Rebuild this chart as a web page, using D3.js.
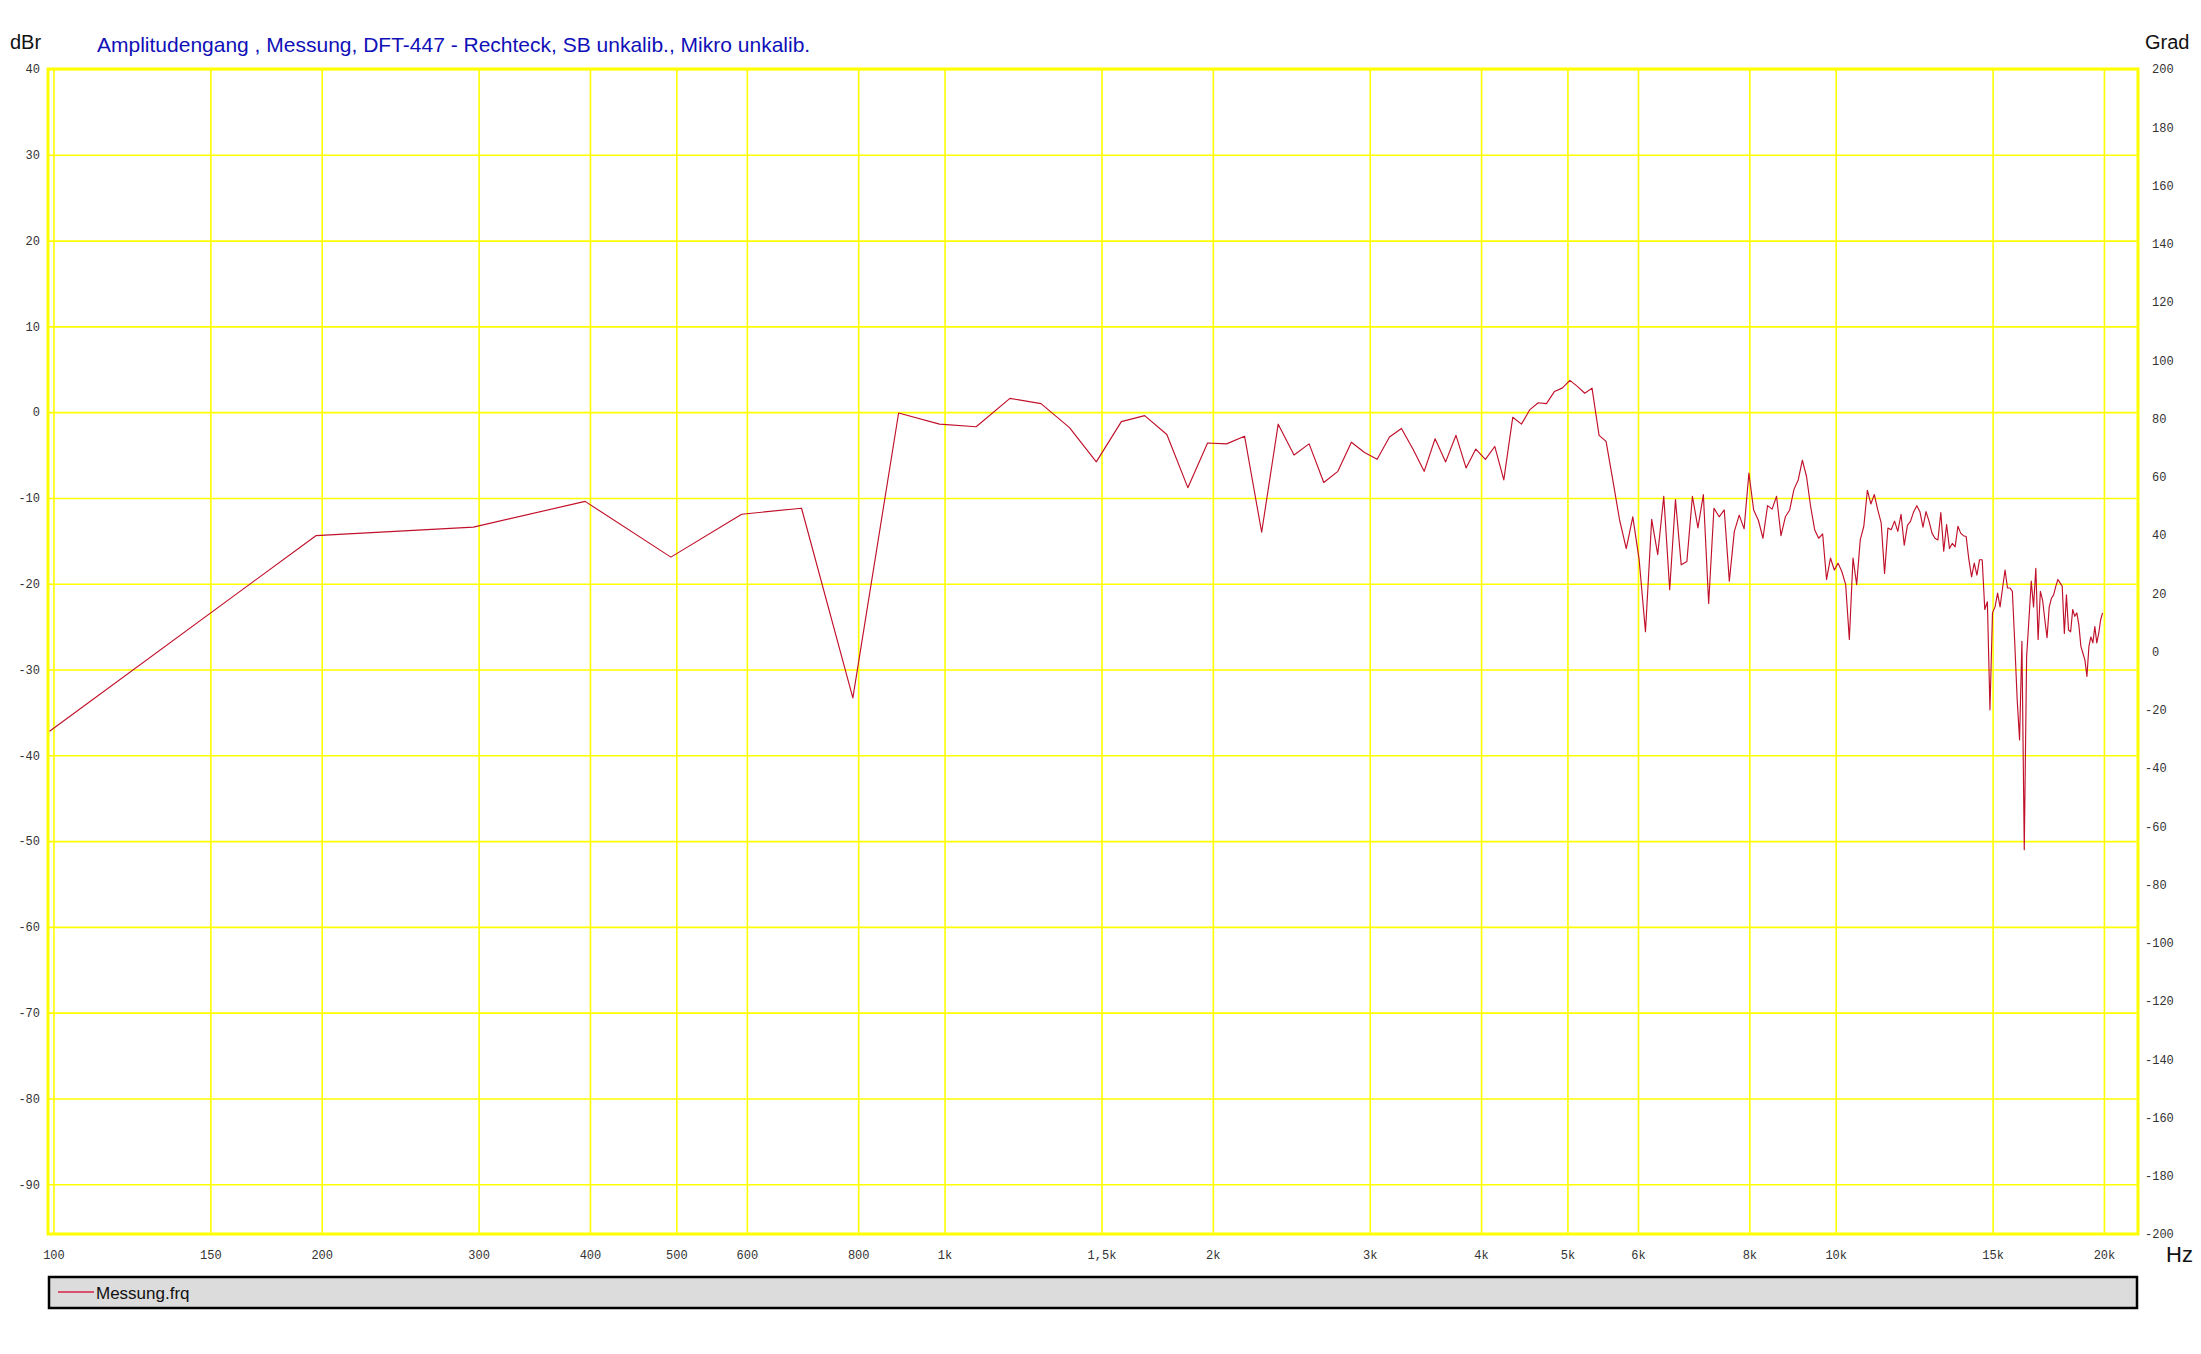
<!DOCTYPE html>
<html><head><meta charset="utf-8">
<script src="https://cdn.jsdelivr.net/npm/d3@7"></script>
<style>
html,body{margin:0;padding:0;background:#fff;}
svg{display:block;}
</style></head>
<body>
<script>
// ---- data ----
const freqs = [99,197,296,395,493,592,691,789,888,987,1085,1184,1283,1381,1480,1579,1677,1776,1875,1973,
2072,2171,2269,2368,2467,2565,2664,2763,2861,2960,3058,3157,3256,3354,3453,3552,3650,3749,3848,3946,
4045,4144,4242,4341,4440,4538,4637,4736,4834,4933,5032,5130,5229,5328,5426,5525,5624,5722,5821,5920,
6018,6117,6216,6314,6413,6512,6610,6709,6808,6906,7005,7104,7202,7301,7400,7498,7597,7696,7794,7893,
7991,8090,8189,8287,8386,8485,8583,8682,8781,8879,8978,9077,9175,9274,9373,9471,9570,9669,9767,9866,
9965,10063,10162,10261,10359,10458,10557,10655,10754,10853,10951,11050,11149,11247,11346,11445,11543,11642,11741,11839,
11938,12037,12135,12234,12333,12431,12530,12629,12727,12826,12924,13023,13122,13220,13319,13418,13516,13615,13714,13812,
13911,14010,14108,14207,14306,14404,14503,14602,14700,14799,14898,14996,15095,15194,15292,15391,15490,15588,15687,15786,
15884,15983,16082,16180,16279,16378,16476,16575,16674,16772,16871,16970,17068,17167,17266,17364,17463,17562,17660,17759,
17857,17956,18055,18153,18252,18351,18449,18548,18647,18745,18844,18943,19041,19140,19239,19337,19436,19535,19633,19732,
19831,19929];
const levels = [-37.2,-14.4,-13.4,-10.4,-16.9,-11.9,-11.2,-33.3,-0.1,-1.4,
-1.7,1.6,1.0,-1.8,-5.8,-1.1,-0.4,-2.6,-8.8,-3.6,
-3.7,-2.8,-14.0,-1.4,-5.0,-3.7,-8.2,-6.9,-3.5,-4.7,
-5.5,-2.9,-1.9,-4.3,-6.9,-3.1,-5.8,-2.7,-6.5,-4.3,
-5.5,-4.0,-7.9,-0.6,-1.4,0.3,1.1,1.0,2.4,2.8,
3.7,3.0,2.2,2.8,-2.7,-3.4,-8.0,-12.6,-15.9,-12.2,
-17.2,-25.6,-12.5,-16.6,-9.8,-20.7,-10.2,-17.8,-17.4,-9.8,
-13.5,-9.6,-22.3,-11.2,-12.2,-11.4,-19.7,-13.9,-12.0,-13.6,
-7.1,-11.4,-12.6,-14.7,-10.9,-11.3,-9.8,-14.4,-12.2,-11.4,
-9.0,-7.9,-5.6,-7.5,-11.0,-13.7,-14.7,-14.2,-19.5,-17.0,
-18.4,-17.6,-18.6,-20.1,-26.5,-17.0,-20.1,-14.9,-13.3,-9.1,
-10.7,-9.6,-11.4,-12.9,-18.8,-13.5,-13.7,-12.7,-13.9,-11.9,
-15.5,-13.2,-12.7,-11.6,-10.9,-11.6,-13.4,-11.6,-12.7,-14.1,
-14.7,-14.9,-11.7,-16.2,-13.1,-15.9,-15.3,-15.7,-13.3,-14.1,
-14.4,-14.5,-17.2,-19.2,-17.6,-19.0,-17.2,-17.2,-23.0,-22.1,
-34.7,-23.4,-22.7,-21.1,-22.7,-20.5,-18.4,-20.5,-20.5,-20.9,
-26.9,-33.5,-38.2,-26.7,-51.0,-28.5,-24.2,-19.7,-22.7,-18.2,
-26.5,-20.9,-21.9,-24.2,-26.3,-22.7,-21.7,-21.3,-20.3,-19.5,
-19.9,-20.3,-25.8,-21.3,-25.4,-25.6,-23.0,-23.8,-23.4,-24.8,
-27.3,-28.1,-28.9,-30.8,-27.3,-26.2,-26.9,-25.0,-26.9,-25.8,
-24.2,-23.4];
const xTickValues = [100,150,200,300,400,500,600,800,1000,1500,2000,3000,4000,5000,6000,8000,10000,15000,20000];
const xTickLabels = ["100","150","200","300","400","500","600","800","1k","1,5k","2k","3k","4k","5k","6k","8k","10k","15k","20k"];
const dbTicks = [40,30,20,10,0,-10,-20,-30,-40,-50,-60,-70,-80,-90];
const gradTicks = [200,180,160,140,120,100,80,60,40,20,0,-20,-40,-60,-80,-100,-120,-140,-160,-180,-200];
const titleText = "Amplitudengang , Messung, DFT-447 - Rechteck, SB unkalib., Mikro unkalib.";
const seriesName = "Messung.frq";

// ---- layout ----
const W = 2201, H = 1354;
const L = 48, R = 2138, T = 69, B = 1234;

const svg = d3.select("body").append("svg").attr("width", W).attr("height", H);

const x = d3.scaleLog().domain([98.6, 21840]).range([L, R]);
const y = d3.scaleLinear().domain([-95.8, 40]).range([B, T]);
const yR = d3.scaleLinear().domain([-200, 200]).range([B, T]);

const yellow = "#ffff00";
const tickFont = "'Liberation Mono', 'DejaVu Sans Mono', monospace";

// gridlines (vertical)
const gx = svg.append("g").attr("transform", `translate(0,${B})`)
  .call(d3.axisBottom(x).tickValues(xTickValues).tickSize(-(B - T)).tickFormat(""));
gx.select(".domain").remove();
gx.selectAll("line").attr("stroke", yellow).attr("stroke-width", 1.6);

// gridlines (horizontal)
const gy = svg.append("g").attr("transform", `translate(${L},0)`)
  .call(d3.axisLeft(y).tickValues(dbTicks).tickSize(-(R - L)).tickFormat(""));
gy.select(".domain").remove();
gy.selectAll("line").attr("stroke", yellow).attr("stroke-width", 1.6);

// frame
svg.append("rect").attr("x", L).attr("y", T).attr("width", R - L).attr("height", B - T)
  .attr("fill", "none").attr("stroke", yellow).attr("stroke-width", 3);

// x tick labels
const ax = svg.append("g").attr("transform", `translate(0,${B})`)
  .call(d3.axisBottom(x).tickValues(xTickValues).tickSize(0).tickPadding(16)
    .tickFormat((d, i) => xTickLabels[i]));
ax.select(".domain").remove();
ax.selectAll("text").attr("font-family", tickFont).attr("font-size", 12).attr("fill", "#333");

// left labels
const ay = svg.append("g").attr("transform", `translate(${L - 8},0)`)
  .call(d3.axisLeft(y).tickValues(dbTicks).tickSize(0).tickPadding(0).tickFormat(d => String(d)));
ay.select(".domain").remove();
ay.selectAll("text").attr("font-family", tickFont).attr("font-size", 12).attr("fill", "#333");

// right labels
const ar = svg.append("g").attr("transform", `translate(${R + 8},0)`)
  .call(d3.axisRight(yR).tickValues(gradTicks).tickSize(0).tickPadding(6).tickFormat(d => String(d)));
ar.select(".domain").remove();
ar.selectAll("text").attr("font-family", tickFont).attr("font-size", 12).attr("fill", "#333")
  .attr("dx", d => d < 0 ? -7 : 0);

// axis unit labels
const sans = "'Liberation Sans', Arial, sans-serif";
svg.append("text").attr("x", 10).attr("y", 49).text("dBr")
  .attr("font-family", sans).attr("font-size", 20).attr("fill", "#111");
svg.append("text").attr("x", 2145).attr("y", 49).text("Grad")
  .attr("font-family", sans).attr("font-size", 20).attr("fill", "#111");
svg.append("text").attr("x", 2166).attr("y", 1262).text("Hz")
  .attr("font-family", sans).attr("font-size", 22).attr("fill", "#111");
svg.append("text").attr("x", 97).attr("y", 52).text(titleText)
  .attr("font-family", sans).attr("font-size", 21).attr("fill", "#1010b8");

// data line
const line = d3.line().x((d, i) => x(freqs[i])).y(d => y(d));
svg.append("path").datum(levels).attr("d", line)
  .attr("fill", "none").attr("stroke", "#c0102a").attr("stroke-width", 1.15)
  .attr("stroke-linejoin", "round");

// legend
svg.append("rect").attr("x", 49).attr("y", 1277).attr("width", 2088).attr("height", 31)
  .attr("fill", "#dcdcdc").attr("stroke", "#000").attr("stroke-width", 2.5);
svg.append("line").attr("x1", 58).attr("x2", 94).attr("y1", 1292).attr("y2", 1292)
  .attr("stroke", "#d8204a").attr("stroke-width", 1.3);
svg.append("text").attr("x", 96).attr("y", 1299).text(seriesName)
  .attr("font-family", sans).attr("font-size", 17).attr("fill", "#111");
</script>
</body></html>
